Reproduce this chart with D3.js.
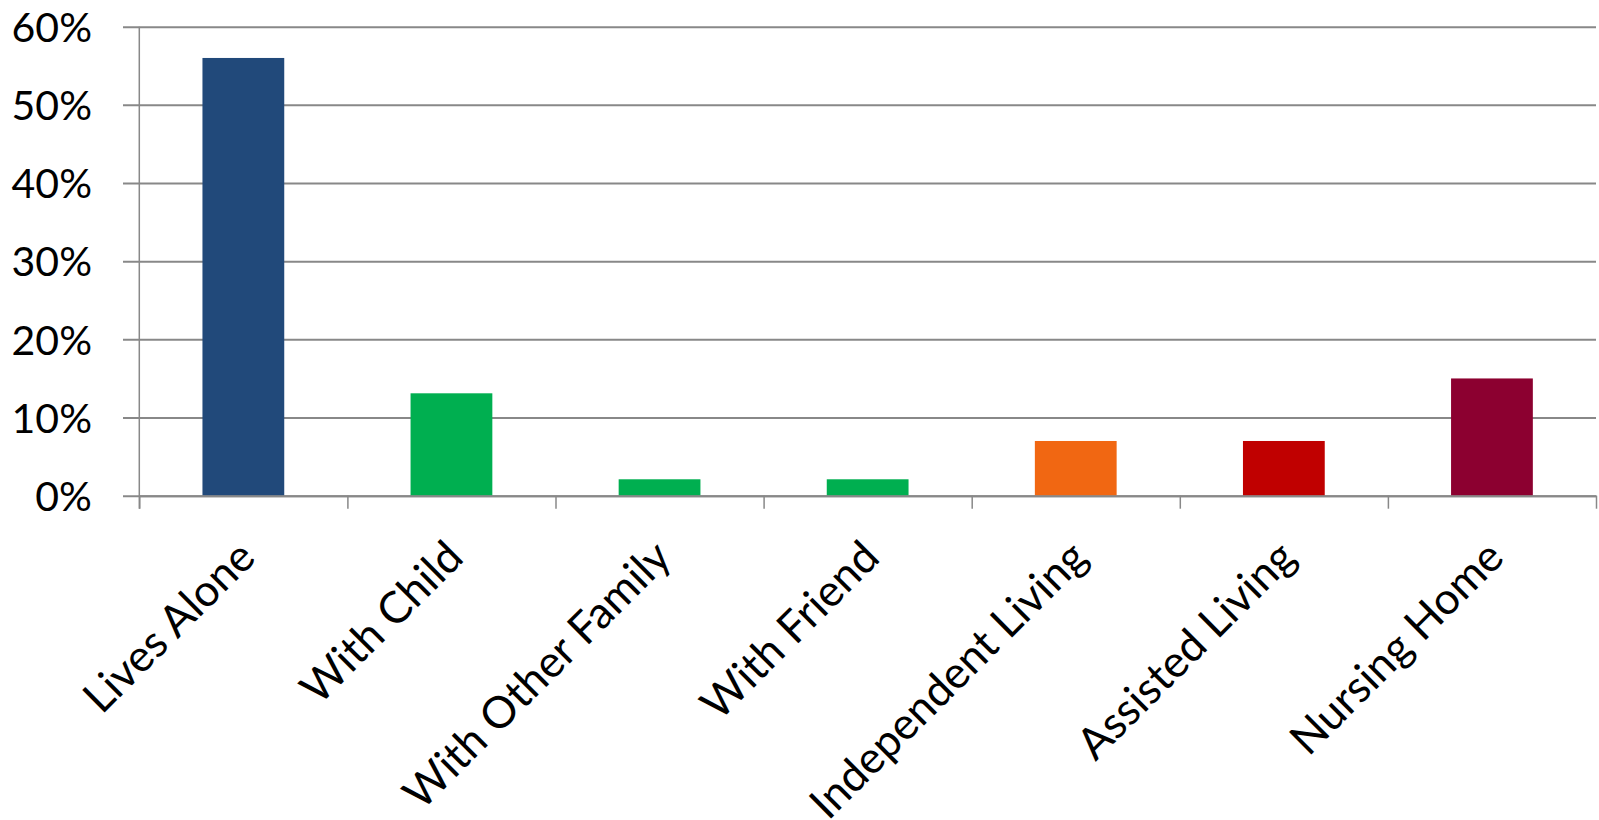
<!DOCTYPE html>
<html>
<head>
<meta charset="utf-8">
<script src="https://cdn.jsdelivr.net/npm/d3@7"></script>
<style>
  body { margin: 0; background: #fff; }
  svg { display: block; }
  text { font-family: Lato, "Open Sans", sans-serif; fill: #000; }
</style>
</head>
<body>
<svg class="chart" width="1599" height="820"></svg>
<script>
// data
const categories = ["Lives Alone", "With Child", "With Other Family", "With Friend",
  "Independent Living", "Assisted Living", "Nursing Home"];
const shares = [0.56, 0.131, 0.021, 0.021, 0.07, 0.07, 0.15];
const barColors = ["#21497A", "#00AF50", "#00AF50", "#00AF50", "#F16712", "#C00000", "#8C0030"];
const yTicks = [0, 0.1, 0.2, 0.3, 0.4, 0.5, 0.6];

const svg = d3.select("svg.chart");

// plot area
const plotLeft = 139.3, plotRight = 1596, plotTop = 26.7, plotBottom = 495.7;

const x = d3.scaleBand()
  .domain(categories)
  .range([plotLeft, plotRight])
  .paddingInner(0.607)
  .paddingOuter(0.3035);

const y = d3.scaleLinear()
  .domain([0, 0.6])
  .range([plotBottom, plotTop]);

// gridlines + y labels
const yAxis = svg.append("g")
  .attr("transform", `translate(123,0)`)
  .call(d3.axisLeft(y)
    .tickValues(yTicks)
    .tickFormat(d3.format(".0%"))
    .tickSize(-(plotRight - 123))
    .tickPadding(31));
yAxis.select(".domain").remove();
yAxis.selectAll(".tick line").attr("stroke", "#888").attr("stroke-width", 2);
yAxis.selectAll(".tick text")
  .attr("font-size", 41)
  .attr("dy", "0.36em")
  .style("font-family", "Lato, sans-serif");

// bars
svg.append("g").selectAll("rect")
  .data(categories)
  .enter()
  .append("rect")
  .attr("x", d => x(d))
  .attr("width", x.bandwidth())
  .attr("y", (d, i) => y(shares[i]))
  .attr("height", (d, i) => y(0) - y(shares[i]))
  .attr("fill", (d, i) => barColors[i]);

// y axis line
svg.append("line")
  .attr("x1", plotLeft).attr("x2", plotLeft)
  .attr("y1", plotTop).attr("y2", plotBottom + 13)
  .attr("stroke", "#888").attr("stroke-width", 1.5);

// x axis line and category boundary ticks
const xEdges = d3.scaleLinear().domain([0, categories.length]).range([plotLeft, plotRight]);
const xTicks = svg.append("g")
  .attr("transform", `translate(0,${plotBottom})`)
  .call(d3.axisBottom(xEdges)
    .tickValues(d3.range(categories.length + 1))
    .tickFormat("")
    .tickSizeInner(13)
    .tickSizeOuter(0));
xTicks.select(".domain").attr("stroke", "#888").attr("stroke-width", 2);
xTicks.selectAll(".tick line").attr("stroke", "#888").attr("stroke-width", 1.5);

// rotated category labels
const xLabels = svg.append("g")
  .attr("transform", `translate(0,${plotBottom})`)
  .call(d3.axisBottom(x).tickSize(0).tickPadding(0));
xLabels.select(".domain").remove();
xLabels.selectAll(".tick text")
  .attr("font-size", 44)
  .attr("text-anchor", "end")
  .attr("y", 0)
  .attr("dy", 0)
  .attr("transform", "translate(14,64) rotate(-45)");
</script>
</body>
</html>
